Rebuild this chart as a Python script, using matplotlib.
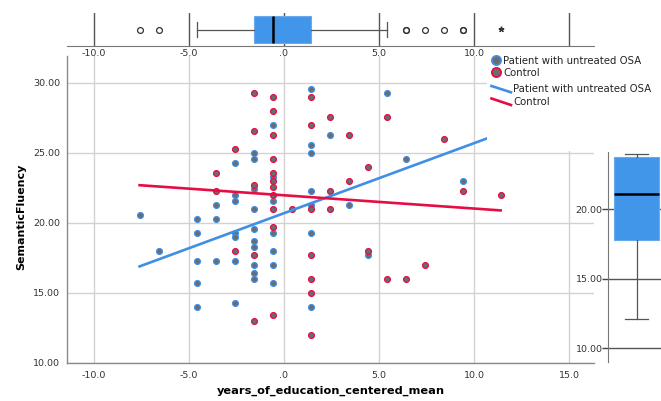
import numpy as np
import matplotlib
matplotlib.use('Agg')
import matplotlib.pyplot as plt

plt.rcParams['font.family'] = ['DejaVu Sans']

# scatter data (x = years of education, centered)
osa_x = [-7.6, -6.6,
         -4.6, -4.6, -4.6, -4.6, -4.6,
         -3.6, -3.6, -3.6,
         -2.6, -2.6, -2.6, -2.6, -2.6, -2.6, -2.6,
         -1.6, -1.6, -1.6, -1.6, -1.6, -1.6, -1.6, -1.6, -1.6, -1.6,
         -0.6, -0.6, -0.6, -0.6, -0.6, -0.6, -0.6,
         1.4, 1.4, 1.4, 1.4, 1.4, 1.4, 1.4,
         2.4, 3.4, 4.4, 5.4, 6.4, 9.4]
osa_y = [20.6, 18.0,
         20.3, 19.3, 17.3, 15.7, 14.0,
         21.3, 20.3, 17.3,
         24.3, 22.0, 21.6, 19.3, 19.0, 17.3, 14.3,
         25.0, 24.6, 22.4, 21.0, 19.6, 18.7, 18.3, 17.0, 16.4, 16.0,
         27.0, 23.3, 21.6, 19.3, 18.0, 17.0, 15.7,
         29.6, 25.6, 25.0, 22.3, 21.3, 19.3, 14.0,
         26.3, 21.3, 17.7, 29.3, 24.6, 23.0]

ctl_x = [-3.6, -3.6,
         -2.6, -2.6,
         -1.6, -1.6, -1.6, -1.6, -1.6,
         -0.6, -0.6, -0.6, -0.6, -0.6, -0.6, -0.6, -0.6, -0.6, -0.6, -0.6,
         0.4,
         1.4, 1.4, 1.4, 1.4, 1.4, 1.4, 1.4,
         2.4, 2.4, 2.4,
         3.4, 3.4,
         4.4, 4.4,
         5.4, 5.4,
         6.4, 7.4, 8.4, 9.4, 11.4]
ctl_y = [23.6, 22.3,
         25.3, 18.0,
         29.3, 26.6, 22.7, 17.7, 13.0,
         29.0, 28.0, 26.3, 24.6, 23.6, 23.0, 22.6, 22.0, 21.0, 19.7, 13.4,
         21.0,
         29.0, 27.0, 21.0, 17.7, 16.0, 15.0, 12.0,
         27.6, 22.3, 21.0,
         26.3, 23.0,
         24.0, 18.0,
         27.6, 16.0,
         16.0, 17.0, 26.0, 22.3, 22.0]

# fit lines (end points)
fit_x = [-7.6, 11.4]
osa_fit_y = [16.9, 26.4]
ctl_fit_y = [22.7, 20.9]

# marginal box plot summaries
x_box = dict(med=-0.6, q1=-1.6, q3=1.4, whislo=-4.6, whishi=5.4,
             fliers=[-7.6, -6.6, 6.4, 6.4, 7.4, 8.4, 9.4, 9.4])
x_extreme = [11.4]
y_box = dict(med=21.1, q1=17.8, q3=23.7, whislo=12.1, whishi=23.95, fliers=[])

x_ticks = [-10, -5, 0, 5, 10, 15]
x_labels = ['-10.0', '-5.0', '.0', '5.0', '10.0', '15.0']
y_ticks = [10, 15, 20, 25, 30]
y_labels = ['10.00', '15.00', '20.00', '25.00', '30.00']
ry_ticks = [10, 15, 20]
ry_labels = ['10.00', '15.00', '20.00']
legend_labels = ['Patient with untreated OSA', 'Control']

blue = '#3f8fe4'
red = '#e60d45'
box_blue = '#4296e9'
dot_gray = '#6b6c70'
grid_gray = '#d2d2d2'

W, H = 661, 401


def rect(x0, y0, x1, y1):
    return [x0 / W, 1 - y1 / H, (x1 - x0) / W, (y1 - y0) / H]


fig = plt.figure(figsize=(W / 100, H / 100), dpi=100)

# main scatter
ax = fig.add_axes(rect(67, 56, 594, 363))
ax.set_xlim(-10 + (67 - 94) / 19, -10 + (594 - 94) / 19)
ax.set_ylim(10, 10 + (363 - 56) / 14)
ax.set_xticks(x_ticks)
ax.set_xticklabels(x_labels)
ax.set_yticks(y_ticks)
ax.set_yticklabels(y_labels)
ax.tick_params(length=0, labelsize=6.8, colors='#333333')
ax.tick_params(axis='x', pad=6)
ax.tick_params(axis='y', pad=5)
ax.grid(True, color=grid_gray, lw=1.0)
ax.set_axisbelow(True)
for s in ['top', 'right']:
    ax.spines[s].set_visible(False)
for s in ['left', 'bottom']:
    ax.spines[s].set_color('#8a8a8a')
    ax.spines[s].set_linewidth(1.0)

ax.plot(osa_x, osa_y, 'o', ms=4.2, mfc=dot_gray, mec=blue, mew=0.9, zorder=3)
ax.plot(ctl_x, ctl_y, 'o', ms=4.2, mfc=dot_gray, mec=red, mew=0.9, zorder=3)
ax.plot(fit_x, osa_fit_y, color=blue, lw=1.9, zorder=4)
ax.plot(fit_x, ctl_fit_y, color=red, lw=1.9, zorder=4)

ax.set_xlabel('years_of_education_centered_mean', fontsize=8.2, fontweight='bold')
ax.xaxis.set_label_coords(0.5, -0.075)
ax.set_ylabel('SemanticFluency', fontsize=8.0, fontweight='bold')
ax.yaxis.set_label_coords(-0.078, 0.476)

# top marginal box plot
axt = fig.add_axes(rect(67, 13, 594, 46))
axt.set_xlim(ax.get_xlim())
axt.set_ylim(0, 1)
axt.bxp([x_box], positions=[0.5], widths=0.815, capwidths=0.44, vert=False,
        patch_artist=True,
        boxprops=dict(facecolor=box_blue, edgecolor='#6aa9ee', lw=0.8),
        medianprops=dict(color='black', lw=1.8),
        whiskerprops=dict(color='#555555', lw=0.9),
        capprops=dict(color='#555555', lw=0.9),
        flierprops=dict(marker='o', ms=4.2, mfc='none', mec='#333333', mew=0.9))
axt.plot(x_extreme, [0.52], marker=(5, 2, 0), ms=4, color='#333333', ls='none')
axt.set_xticks(x_ticks)
axt.set_xticklabels(x_labels)
axt.set_yticks([])
axt.tick_params(length=0, labelsize=6.8, pad=2, colors='#333333')
axt.grid(True, axis='x', color='#555555', lw=1.0)
axt.set_axisbelow(True)
for s in ['top', 'right', 'left']:
    axt.spines[s].set_visible(False)
axt.spines['bottom'].set_color('#777777')
axt.patch.set_alpha(0)

# right marginal box plot
axr = fig.add_axes(rect(608, 152, 665, 362))
axr.set_xlim(0, 1)
axr.set_ylim(10 - (362 - 348.3) / 13.93, 20 + (209 - 152) / 13.93)
axr.bxp([y_box], positions=[0.5], widths=0.79, capwidths=0.39,
        patch_artist=True,
        boxprops=dict(facecolor=box_blue, edgecolor='#6aa9ee', lw=0.8),
        medianprops=dict(color='black', lw=1.8),
        whiskerprops=dict(color='#555555', lw=0.9),
        capprops=dict(color='#555555', lw=0.9))
axr.set_yticks(ry_ticks)
axr.set_yticklabels(ry_labels)
axr.set_xticks([])
axr.tick_params(axis='y', length=4, width=1, color='#444444', labelsize=6.8, pad=0,
                labelcolor='#333333')
axr.grid(True, axis='y', color='#555555', lw=1.0)
axr.set_axisbelow(True)
for s in ['top', 'right', 'bottom']:
    axr.spines[s].set_visible(False)
axr.spines['left'].set_color('#777777')
axr.patch.set_alpha(0)

# legend drawn on a white panel
axl = fig.add_axes(rect(487, 48, 661, 151))
axl.set_xlim(487, 661)
axl.set_ylim(151, 48)
axl.axis('off')
axl.add_patch(plt.Rectangle((487, 48), 174, 103, facecolor='white', edgecolor='none'))
axl.plot([496], [60.5], 'o', ms=6.6, mfc=dot_gray, mec=blue, mew=1.3)
axl.plot([496], [72.5], 'o', ms=6.6, mfc=dot_gray, mec=red, mew=1.3)
axl.text(503, 60.5, legend_labels[0], fontsize=7.3, va='center', color='#222222')
axl.text(503, 72.5, legend_labels[1], fontsize=7.3, va='center', color='#222222')
axl.plot([491.5, 511], [86, 92.3], color=blue, lw=1.9)
axl.plot([491.5, 511], [98.5, 105], color=red, lw=1.9)
axl.text(513, 89.3, legend_labels[0], fontsize=7.3, va='center', color='#222222')
axl.text(513, 102.3, legend_labels[1], fontsize=7.3, va='center', color='#222222')

fig.savefig('out.png', dpi=100)
